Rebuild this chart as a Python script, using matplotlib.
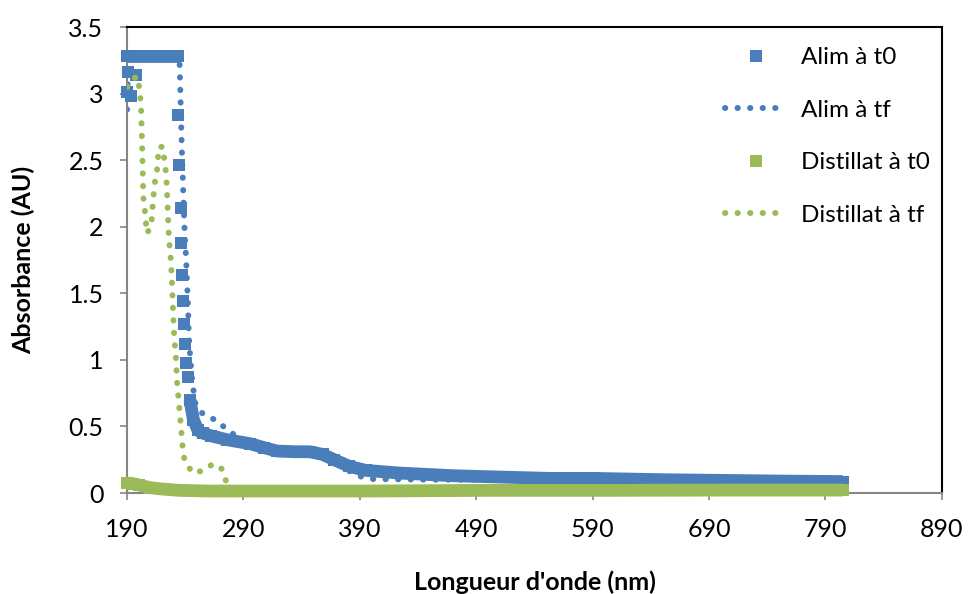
import numpy as np
from matplotlib import pyplot as plt

# Alim à t0 (square markers)
alim_t0_x = [190, 190.5, 193, 198, 190, 193, 196, 199, 205, 212, 220, 228, 234,
             234, 235, 236, 236.5, 237.5, 238, 239, 240, 241, 242, 244, 247, 251,
             255, 262, 276, 296, 308, 319, 335, 347, 358, 368, 381, 395, 424, 470,
             510, 553, 590, 650, 700, 750, 805]
alim_t0_y = [3.01, 3.16, 2.98, 3.14, 3.28, 3.28, 3.28, 3.28, 3.28, 3.28, 3.28, 3.28, 3.28,
             2.84, 2.46, 2.14, 1.88, 1.64, 1.44, 1.27, 1.12, 0.98, 0.87, 0.70, 0.55, 0.47,
             0.45, 0.43, 0.40, 0.37, 0.34, 0.315, 0.31, 0.31, 0.29, 0.25, 0.20, 0.17, 0.15, 0.13,
             0.12, 0.11, 0.11, 0.10, 0.095, 0.09, 0.086]

# Alim à tf (dotted line)
alim_tf_x = [190, 191, 235, 235.8, 237, 238.5, 239.5, 240.7, 241.5, 242.4, 243, 244,
             245.8, 248.4, 252.7, 260.4, 268.2, 275, 285, 296, 319, 347, 358, 368,
             380, 388, 400, 450, 500, 560, 650, 800]
alim_tf_y = [2.88, 3.28, 3.28, 3.0, 2.6, 2.2, 1.95, 1.76, 1.59, 1.4, 1.2, 1.05,
             0.86, 0.68, 0.61, 0.57, 0.54, 0.48, 0.42, 0.37, 0.315, 0.31, 0.29, 0.25,
             0.17, 0.13, 0.105, 0.10, 0.10, 0.10, 0.095, 0.086]

# Distillat à t0 (square markers)
dist_t0_x = [190, 195, 200, 210, 220, 235, 260, 300, 400, 500, 600, 700, 805]
dist_t0_y = [0.075, 0.07, 0.06, 0.04, 0.03, 0.02, 0.015, 0.015, 0.015, 0.02, 0.02, 0.022, 0.022]

# Distillat à tf (dotted line)
dist_tf_x = [190, 193, 199, 201, 202, 202.5, 203, 203.5, 204, 205.5, 207, 209.8, 211.5,
             212.3, 214, 215.8, 216.6, 217.5, 221, 221.8, 223.5, 224.4, 225.2, 226, 227,
             227.8, 228.7, 229.5, 230.4, 232, 233, 234.7, 236.4, 237.2, 238, 239.8, 242.4,
             246.7, 256, 263.9, 271.6, 275, 280, 800]
dist_tf_y = [3.05, 3.1, 3.13, 3.01, 2.9, 2.75, 2.58, 2.4, 2.22, 2.1, 1.95, 1.99, 2.07,
             2.2, 2.34, 2.43, 2.52, 2.6, 2.6, 2.52, 2.4, 2.25, 2.07, 1.9, 1.81,
             1.73, 1.55, 1.37, 1.19, 1.01, 0.83, 0.66, 0.49, 0.4, 0.31, 0.23, 0.2,
             0.15, 0.17, 0.22, 0.18, 0.09, 0.03, 0.02]

xticks = [190, 290, 390, 490, 590, 690, 790, 890]
yticks = [0, 0.5, 1, 1.5, 2, 2.5, 3, 3.5]

blue = '#4a7ebb'
green = '#9bbb59'

plt.rcParams['font.family'] = ['Lato', 'DejaVu Sans']

fig = plt.figure(figsize=(9.7, 5.94), dpi=100)
ax = fig.add_axes([0.131, 0.170, 0.840, 0.7845])

ms = 9.2
lw_dot = 4.3
dot = (0, (0.05, 2.05))

ax.plot(alim_t0_x, alim_t0_y, 's', color=blue, ms=ms, mew=0, label='Alim à t0', zorder=3,
        clip_on=False)
ax1x = np.array(alim_t0_x)[13:]
ax1y = np.array(alim_t0_y)[13:]
ax.plot(ax1x[ax1x >= 244], ax1y[ax1x >= 244], '-', color=blue, lw=ms,
        solid_capstyle='butt', zorder=3)
ax.plot(alim_t0_x[4:13], alim_t0_y[4:13], '-', color=blue, lw=ms, solid_capstyle='butt',
        zorder=3, clip_on=False)

ax.plot(alim_tf_x, alim_tf_y, color=blue, lw=lw_dot, linestyle=dot, dash_capstyle='round',
        label='Alim à tf', zorder=2)

ax.plot(dist_t0_x, dist_t0_y, 's', color=green, ms=ms, mew=0, label='Distillat à t0', zorder=4,
        clip_on=False)
ax.plot(dist_t0_x, dist_t0_y, '-', color=green, lw=ms, solid_capstyle='butt', zorder=4,
        clip_on=False)

ax.plot(dist_tf_x, dist_tf_y, color=green, lw=lw_dot, linestyle=dot, dash_capstyle='round',
        label='Distillat à tf', zorder=5)

ax.set_xlim(190, 890)
ax.set_ylim(0, 3.5)
ax.set_xticks(xticks)
ax.set_yticks(yticks)
ax.set_yticklabels(['0', '0.5', '1', '1.5', '2', '2.5', '3', '3.5'])

for s in ['left', 'bottom']:
    ax.spines[s].set_color('#868686')
    ax.spines[s].set_linewidth(1.5)
for s in ['top', 'right']:
    ax.spines[s].set_color('black')
    ax.spines[s].set_linewidth(1.5)
ax.tick_params(axis='x', direction='out', length=5, width=1.2, color='#868686',
               labelsize=18, pad=13, top=False)
ax.tick_params(axis='y', direction='out', length=5, width=1.2, color='#868686',
               labelsize=18, pad=12, right=False)

ax.set_xlabel("Longueur d'onde (nm)", fontsize=18, fontweight='bold', labelpad=21)
ax.set_ylabel('Absorbance (AU)', fontsize=18, fontweight='bold', labelpad=24)

ax.legend(loc='upper right', frameon=False, fontsize=17.5, handlelength=2.5,
          labelspacing=1.3, borderaxespad=0.0, handletextpad=0.6,
          bbox_to_anchor=(0.997, 0.978))

fig.savefig('out.png', dpi=100)
